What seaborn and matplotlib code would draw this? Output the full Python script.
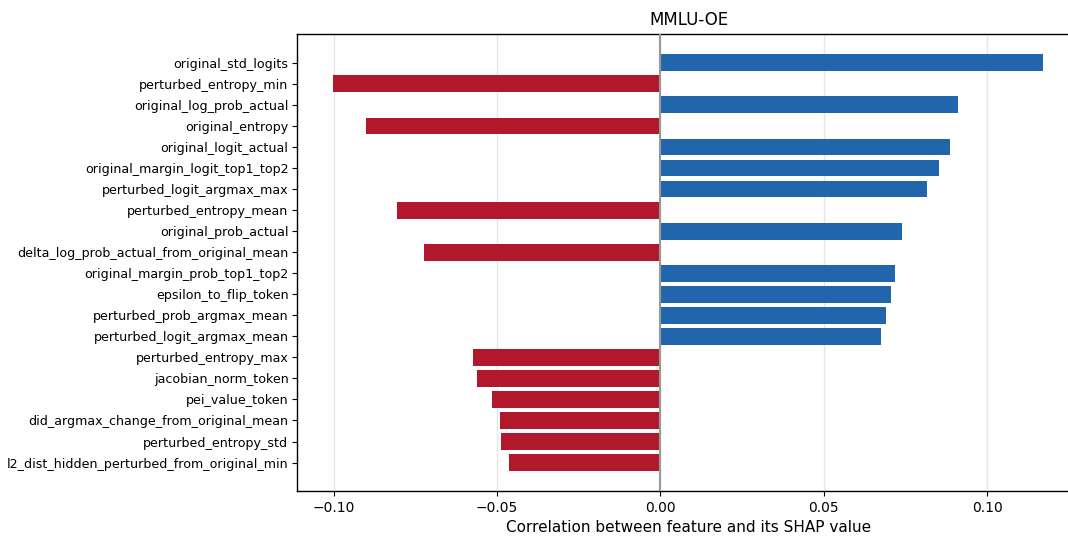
import matplotlib
matplotlib.use("Agg")
import matplotlib.pyplot as plt
import seaborn as sns
import pandas as pd

features = [
    "original_std_logits",
    "perturbed_entropy_min",
    "original_log_prob_actual",
    "original_entropy",
    "original_logit_actual",
    "original_margin_logit_top1_top2",
    "perturbed_logit_argmax_max",
    "perturbed_entropy_mean",
    "original_prob_actual",
    "delta_log_prob_actual_from_original_mean",
    "original_margin_prob_top1_top2",
    "epsilon_to_flip_token",
    "perturbed_prob_argmax_mean",
    "perturbed_logit_argmax_mean",
    "perturbed_entropy_max",
    "jacobian_norm_token",
    "pei_value_token",
    "did_argmax_change_from_original_mean",
    "perturbed_entropy_std",
    "l2_dist_hidden_perturbed_from_original_min",
]
correlations = [
    0.1171, -0.1003, 0.0910, -0.0902, 0.0888, 0.0852, 0.0815, -0.0807,
    0.0739, -0.0725, 0.0717, 0.0705, 0.0690, 0.0674, -0.0575, -0.0562,
    -0.0517, -0.0492, -0.0489, -0.0464,
]

POS_COLOR = "#2166ac"
NEG_COLOR = "#b2182b"

df = pd.DataFrame({"feature": features, "corr": correlations})
df["sign"] = ["pos" if v > 0 else "neg" for v in df["corr"]]

sns.set_style("white")
plt.rcParams.update({
    "text.color": "black",
    "axes.labelcolor": "black",
    "xtick.color": "black",
    "ytick.color": "black",
})
fig = plt.figure(figsize=(10.68, 5.36), dpi=100)
# the axes run slightly past the right edge of the canvas
ax = fig.add_axes([0.278, 0.084, 0.734, 0.853])

sns.barplot(
    data=df, y="feature", x="corr", hue="sign",
    palette={"pos": POS_COLOR, "neg": NEG_COLOR},
    orient="h", width=0.8, dodge=False, legend=False, ax=ax,
    saturation=1, edgecolor="none", linewidth=0,
)

ax.axvline(0, color="#999999", linewidth=1.5, zorder=3)
ax.set_axisbelow(True)
ax.grid(axis="x", color="#e6e6e6", linewidth=1.0)
ax.grid(axis="y", visible=False)

ax.set_xlim(-0.1113, 0.1287)
ax.set_ylim(len(features) - 1 + 1.35, -1.38)
ax.set_xticks([-0.10, -0.05, 0.00, 0.05, 0.10])
ax.set_xticklabels(["\u22120.10", "\u22120.05", "0.00", "0.05", "0.10"])

ax.set_title("MMLU-OE", fontsize=12, color="black")
ax.set_xlabel("Correlation between feature and its SHAP value", fontsize=11)
ax.set_ylabel("")
ax.tick_params(axis="y", labelsize=9.1, length=3.5, pad=2.6, left=True)
ax.tick_params(axis="x", labelsize=10, length=3.5, bottom=True)
for s in ax.spines.values():
    s.set_color("black")
    s.set_linewidth(1.0)

fig.savefig("out.png", dpi=100)
